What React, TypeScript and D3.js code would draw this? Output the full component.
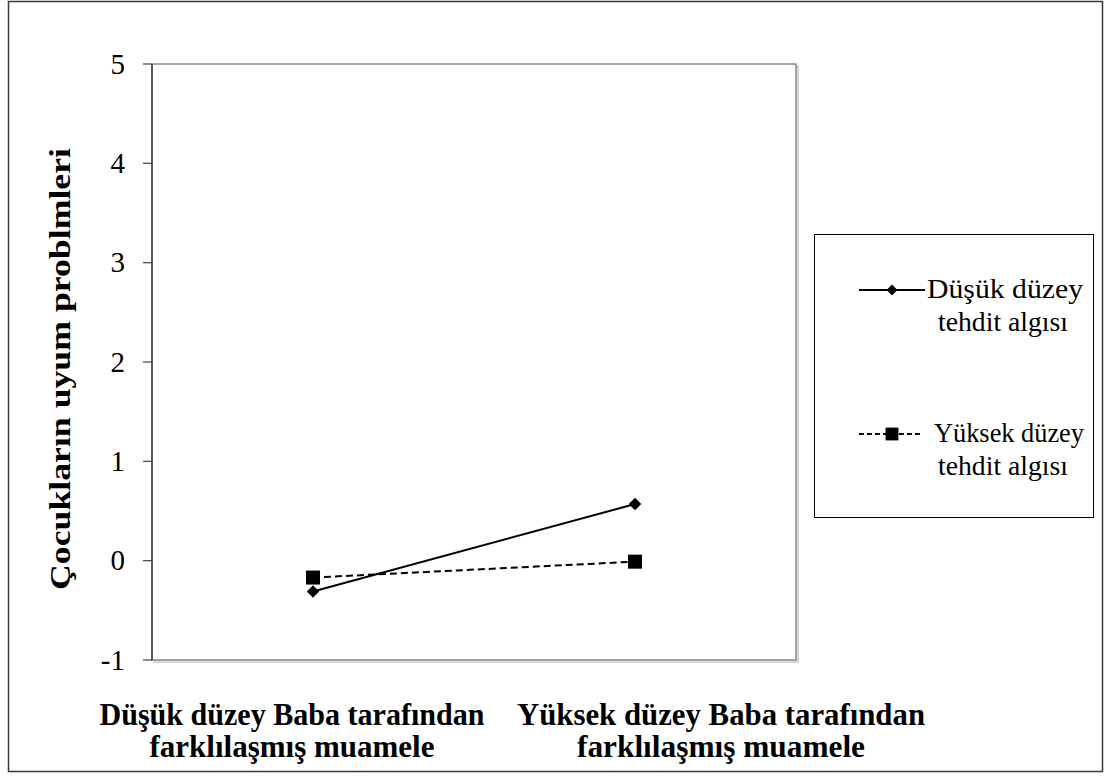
import * as d3 from 'd3';

const categories = ['Düşük düzey Baba tarafından|farklılaşmış muamele', 'Yüksek düzey Baba tarafından|farklılaşmış muamele'];
const lowThreat = [-0.31, 0.57];
const highThreat = [-0.17, -0.01];
const yTicks = [-1, 0, 1, 2, 3, 4, 5];
const seriesNames = ['Düşük düzey|tehdit algısı', 'Yüksek düzey|tehdit algısı'];
const yTitle = 'Çocukların uyum problmleri';

const font = "Liberation Serif, DejaVu Serif, serif";

export default function App() {
  const plot = { left: 152, right: 796, top: 64, bottom: 660 };

  const x = d3.scalePoint<string>().domain(categories).range([plot.left, plot.right]).padding(0.5);
  const y = d3.scaleLinear().domain([-1, 5]).range([plot.bottom, plot.top]);

  const line = d3
    .line<number>()
    .x((_, i) => x(categories[i]) as number)
    .y((d) => y(d));

  const diamond = d3.symbol().type(d3.symbolDiamond2).size(100)();
  const square = d3.symbol().type(d3.symbolSquare).size(196)();
  const legDiamond = d3.symbol().type(d3.symbolDiamond2).size(75)();
  const legSquare = d3.symbol().type(d3.symbolSquare).size(165)();

  const legendRows = [
    { name: seriesNames[0], y: 290, dash: undefined, mark: legDiamond, tx: 927, w1: 156, x2: 925 },
    { name: seriesNames[1], y: 434, dash: '5,3', mark: legSquare, tx: 934, w1: 150, x2: 922 },
  ];

  return (
    <svg width={1105} height={776} style={{ position: 'absolute', left: 0, top: 0 }} fontFamily={font}>
      <rect x={0} y={0} width={1105} height={776} fill="#fff" />
      {/* outer frame */}
      <rect x={8.5} y={1.5} width={1094} height={770} fill="none" stroke="#3a3a3a" strokeWidth={1.5} />

      {/* plot area, with a little shadow */}
      <rect x={plot.left + 2} y={plot.top + 2} width={plot.right - plot.left} height={plot.bottom - plot.top} fill="none" stroke="#c8c8c8" strokeWidth={1.5} />
      <rect x={plot.left} y={plot.top} width={plot.right - plot.left} height={plot.bottom - plot.top} fill="#fff" stroke="#868686" strokeWidth={1.5} />

      {/* y axis */}
      <line x1={plot.left} x2={plot.left} y1={plot.top} y2={plot.bottom} stroke="#404040" strokeWidth={1.5} />
      {yTicks.map((t) => (
        <g key={t}>
          <line x1={plot.left - 9} x2={plot.left} y1={y(t)} y2={y(t)} stroke="#404040" strokeWidth={1.2} />
          <text x={plot.left - 27} y={y(t)} dy="0.33em" textAnchor="end" fontSize={29} fill="#000">
            {t}
          </text>
        </g>
      ))}

      <text
        transform={`translate(70, 369) rotate(-90)`}
        textAnchor="middle"
        fontSize={29}
        fontWeight="bold"
        fill="#000"
        textLength={442}
        lengthAdjust="spacingAndGlyphs"
      >
        {yTitle}
      </text>

      {/* series */}
      <path d={line(highThreat) ?? ''} fill="none" stroke="#000" strokeWidth={2} strokeDasharray="7,4" />
      <path d={line(lowThreat) ?? ''} fill="none" stroke="#000" strokeWidth={2} />
      {lowThreat.map((v, i) => (
        <path key={'l' + i} d={diamond ?? ''} transform={`translate(${x(categories[i])}, ${y(v)})`} fill="#000" />
      ))}
      {highThreat.map((v, i) => (
        <path key={'h' + i} d={square ?? ''} transform={`translate(${x(categories[i])}, ${y(v)})`} fill="#000" />
      ))}

      {/* category labels */}
      {categories.map((c, i) => {
        const cx = (x(c) as number) - (i === 0 ? 21 : -86);
        const [l1, l2] = c.split('|');
        return (
          <g key={c} fontWeight="bold" fontSize={31} fill="#000" textAnchor="middle">
            <text x={cx} y={725} textLength={i === 0 ? 385 : 408} lengthAdjust="spacingAndGlyphs">
              {l1}
            </text>
            <text x={cx} y={757} textLength={i === 0 ? 285 : 288} lengthAdjust="spacingAndGlyphs">
              {l2}
            </text>
          </g>
        );
      })}

      {/* legend */}
      <rect x={814.5} y={234.5} width={279} height={283} fill="#fff" stroke="#000" strokeWidth={1} />
      {legendRows.map((r) => {
        const [l1, l2] = r.name.split('|');
        return (
          <g key={l1}>
            <line x1={859} x2={r.x2} y1={r.y} y2={r.y} stroke="#000" strokeWidth={2} strokeDasharray={r.dash} />
            <path d={r.mark ?? ''} transform={`translate(892, ${r.y})`} fill="#000" />
            <text x={r.tx} y={r.y + 8} fontSize={27} fill="#000" textLength={r.w1} lengthAdjust="spacingAndGlyphs">
              {l1}
            </text>
            <text x={1003} y={r.y + 41} fontSize={27} fill="#000" textAnchor="middle" textLength={130} lengthAdjust="spacingAndGlyphs">
              {l2}
            </text>
          </g>
        );
      })}
    </svg>
  );
}
